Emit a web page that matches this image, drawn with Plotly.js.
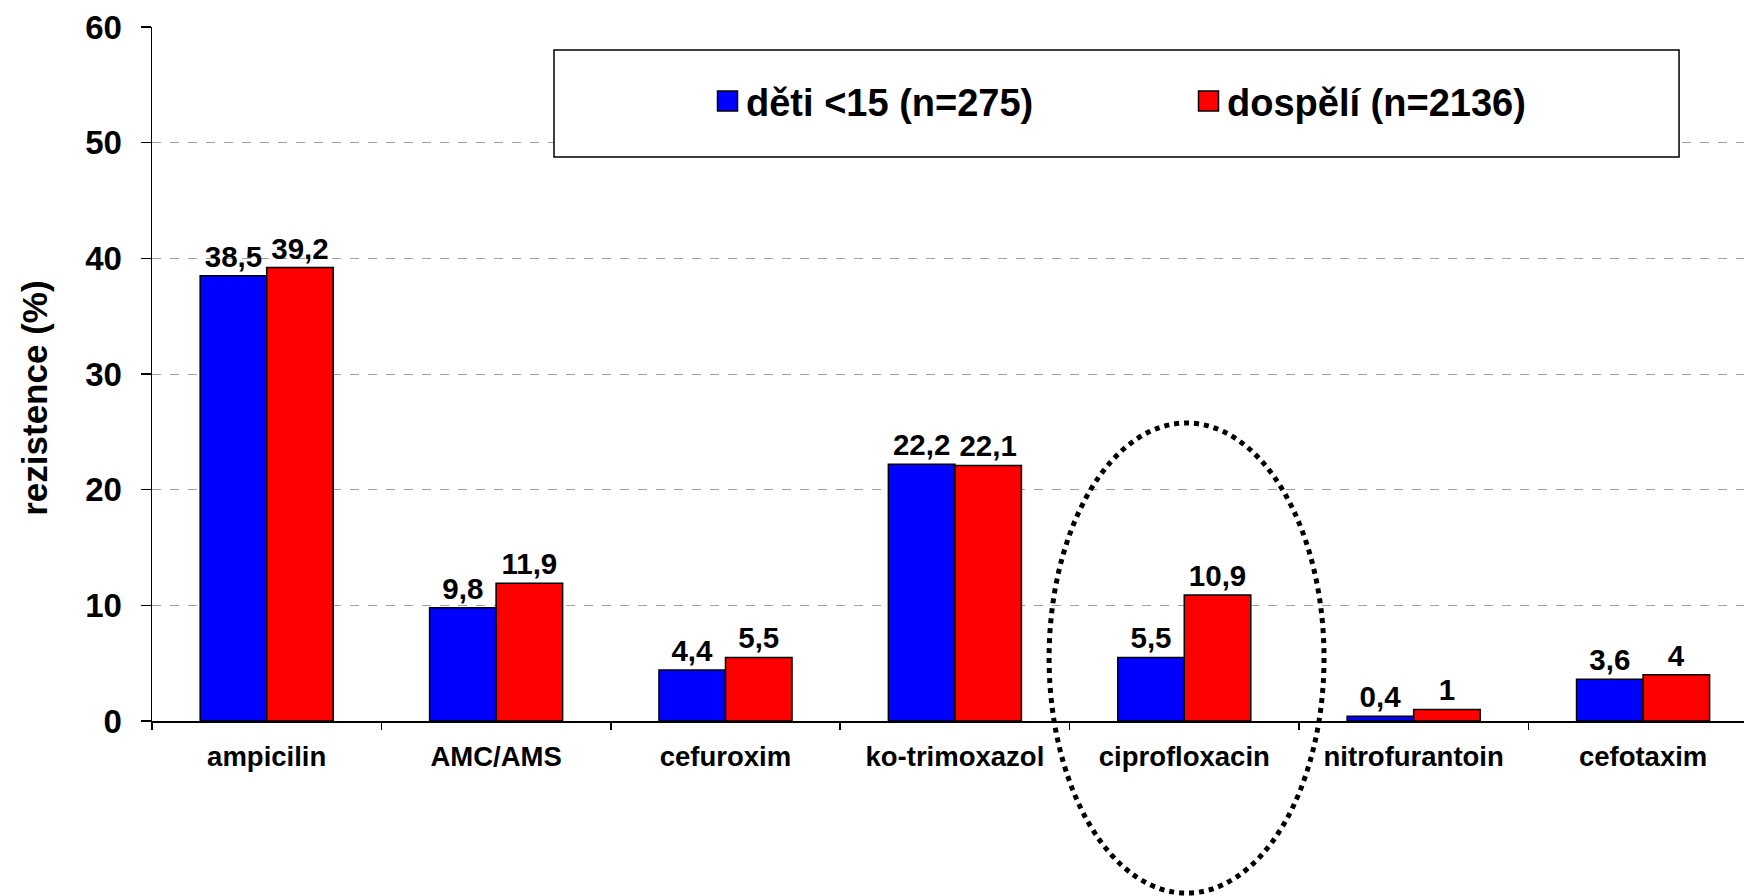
<!DOCTYPE html>
<html>
<head>
<meta charset="utf-8">
<script src="https://cdn.plot.ly/plotly-3.0.1.min.js"></script>
<style>html,body{margin:0;padding:0;background:#fff;}#chart{width:1744px;height:896px;}</style>
</head>
<body>
<div id="chart"></div>
<script>
const categories = ["ampicilin", "AMC/AMS", "cefuroxim", "ko-trimoxazol", "ciprofloxacin", "nitrofurantoin", "cefotaxim"];
const deti = [38.5, 9.8, 4.4, 22.2, 5.5, 0.4, 3.6];
const dospeli = [39.2, 11.9, 5.5, 22.1, 10.9, 1, 4];
const seriesNames = ["děti <15 (n=275)", "dospělí (n=2136)"];
const yTitle = "rezistence (%)";

const FONT = "Liberation Sans, Arial, sans-serif";
const fmt = v => String(v).replace('.', ',');

function barTrace(vals, name, color) {
  return {
    type: 'bar', x: categories, y: vals, name: name,
    marker: {color: color, line: {color: '#000', width: 1.5}},
    text: vals.map(fmt), textposition: 'outside', cliponaxis: false,
    textfont: {family: FONT, size: 29.5, color: '#000', weight: 'bold'},
    hoverinfo: 'none'
  };
}

const data = [barTrace(deti, seriesNames[0], '#0000ff'), barTrace(dospeli, seriesNames[1], '#ff0000')];

const layout = {
  width: 1744, height: 896,
  margin: {l: 152, r: 0, t: 27, b: 175},
  paper_bgcolor: '#fff', plot_bgcolor: '#fff',
  font: {family: FONT, color: '#000'},
  barmode: 'group', bargap: 0.42, bargroupgap: 0,
  showlegend: true,
  legend: {
    orientation: 'h', x: 0.348, y: 0.893, xanchor: 'left', yanchor: 'middle',
    bgcolor: 'rgba(0,0,0,0)', borderwidth: 0,
    font: {family: FONT, size: 38, color: '#000', weight: 'bold'},
    entrywidth: 436, entrywidthmode: 'pixels', itemwidth: 30
  },
  xaxis: {
    type: 'category', range: [-0.5, 6.44], tickson: 'boundaries', ticks: 'outside', ticklen: 7, tickwidth: 1.5, tickcolor: '#000',
    showline: true, linecolor: '#000', linewidth: 1.5, showgrid: false,
    tickfont: {family: FONT, size: 27.5, color: '#000', weight: 'bold'},
    ticklabelstandoff: 10, fixedrange: true
  },
  yaxis: {
    range: [0, 60], dtick: 10, ticks: 'outside', ticklen: 10, tickwidth: 1.5, tickcolor: '#000',
    showline: true, linecolor: '#000', linewidth: 1.5,
    showgrid: true, gridcolor: '#a0a0a0', gridwidth: 1, griddash: 'dash',
    zeroline: false,
    tickfont: {family: FONT, size: 33, color: '#000', weight: 'bold'},
    ticklabelstandoff: 12, fixedrange: true
  },
  annotations: [{
    text: yTitle, textangle: -90, xref: 'paper', yref: 'paper',
    x: (34.5 - 152) / 1592, y: 0.465, xanchor: 'center', yanchor: 'middle',
    showarrow: false, font: {family: FONT, size: 35, color: '#000', weight: 'bold'}
  }],
  shapes: [
    {type: 'rect', xref: 'paper', yref: 'paper', x0: 0.2525, x1: 0.9592, y0: 0.8127, y1: 0.9669,
     fillcolor: '#fff', line: {color: '#000', width: 1.5}, layer: 'above'},
    {type: 'circle', xref: 'paper', yref: 'paper', x0: 0.5635, x1: 0.7362, y0: -0.248, y1: 0.4294,
     line: {color: '#000', width: 5, dash: 'dot'}, layer: 'above'}
  ]
};

Plotly.newPlot('chart', data, layout, {staticPlot: true}).then(gd => {
  // enlarge legend swatches and place them next to the text, as in the reference
  gd.querySelectorAll('.legend .legendpoints path').forEach(p => {
    p.setAttribute('d', 'M10,10H-10V-10H10Z');
    p.setAttribute('transform', 'translate(21.5,0)');
  });
});
</script>
</body>
</html>
